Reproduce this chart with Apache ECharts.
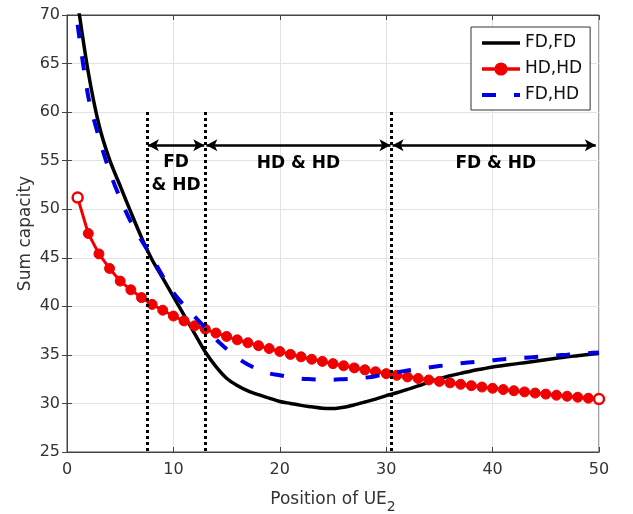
<!DOCTYPE html>
<html>
<head>
<meta charset="utf-8">
<script src="https://cdn.jsdelivr.net/npm/echarts@6/dist/echarts.min.js"></script>
<style>
  html, body { margin: 0; padding: 0; background: #fff; }
</style>
</head>
<body>
<div id="sumCapacity" style="width: 633px; height: 514px"></div>
<script>
// position of UE2
var positions = [1, 2, 3, 4, 5, 6, 7, 8, 9, 10, 11, 12, 13, 14, 15, 16, 17, 18, 19, 20,
  21, 22, 23, 24, 25, 26, 27, 28, 29, 30, 31, 32, 33, 34, 35, 36, 37, 38, 39, 40,
  41, 42, 43, 44, 45, 46, 47, 48, 49, 50];

var fdfd = [71.3, 64.1, 58.7, 55.1, 52.4, 49.7, 47.1, 44.8, 42.9, 41.0,
  39.1, 37.2, 35.3, 33.8, 32.6, 31.85, 31.3, 30.9, 30.55, 30.2,
  30.0, 29.8, 29.65, 29.5, 29.47, 29.6, 29.85, 30.15, 30.45, 30.8,
  31.1, 31.45, 31.8, 32.2, 32.55, 32.85, 33.1, 33.35, 33.55, 33.75,
  33.9, 34.05, 34.2, 34.35, 34.5, 34.65, 34.8, 34.92, 35.05, 35.15];

var hdhd = [51.2, 47.5, 45.4, 43.9, 42.6, 41.7, 40.9, 40.2, 39.6, 39.0,
  38.5, 38.0, 37.65, 37.25, 36.9, 36.55, 36.25, 35.95, 35.65, 35.35,
  35.05, 34.8, 34.55, 34.33, 34.1, 33.88, 33.66, 33.46, 33.26, 33.07,
  32.9, 32.73, 32.57, 32.42, 32.27, 32.12, 31.97, 31.83, 31.69, 31.56,
  31.43, 31.31, 31.19, 31.07, 30.96, 30.85, 30.74, 30.64, 30.54, 30.45];

var fdhd = [69.0, 61.6, 57.4, 53.9, 51.1, 48.7, 46.8, 45.0, 43.1, 41.4,
  40.1, 38.95, 37.8, 36.6, 35.6, 34.7, 34.0, 33.5, 33.1, 32.9,
  32.7, 32.55, 32.5, 32.45, 32.45, 32.5, 32.55, 32.65, 32.8, 33.05,
  33.2, 33.4, 33.55, 33.7, 33.85, 34.0, 34.15, 34.25, 34.35, 34.45,
  34.55, 34.62, 34.7, 34.78, 34.86, 34.95, 35.02, 35.1, 35.18, 35.25];

// region boundaries and labels
var bounds = [7.5, 13, 30.5];
var boundTop = 60;
var arrowY = 56.6;
var regionLabels = ["FD\n& HD", "HD & HD", "FD & HD"];
var labelX = [10.25, 21.75, 40.3];
var labelY = [53.65, 54.7, 54.7];

var font = "DejaVu Sans";
var txt = "#333";

function pairs(ys) {
  return positions.map(function (x, i) { return [x, ys[i]]; });
}

var chart = echarts.init(document.getElementById("sumCapacity"));

var lineData = [];
bounds.forEach(function (b) {
  lineData.push([
    { coord: [b, boundTop], symbol: "none", lineStyle: { type: "dotted", width: 3, color: "#000" } },
    { coord: [b, 25], symbol: "none" }
  ]);
});
var arrowEnds = [[bounds[0] + 0.1, bounds[1] - 0.1], [bounds[1] + 0.1, bounds[2] - 0.1], [bounds[2] + 0.1, 49.7]];
arrowEnds.forEach(function (a) {
  lineData.push([
    { coord: [a[0], arrowY], symbol: "arrow", symbolSize: [9, 11], lineStyle: { type: "solid", width: 2.5, color: "#000" } },
    { coord: [a[1], arrowY], symbol: "arrow", symbolSize: [9, 11] }
  ]);
});

// red markers: first and last drawn hollow, like the original
var hdData = pairs(hdhd).map(function (p, i, all) {
  if (i === 0 || i === all.length - 1) {
    return { value: p, itemStyle: { color: "#fff", borderColor: "#f00000", borderWidth: 2.5 } };
  }
  return p;
});

var noSymbol = { color: "rgba(0,0,0,0)", borderWidth: 0, opacity: 0 };

var option = {
  animation: false,
  textStyle: { fontFamily: font },
  grid: {
    left: 67, right: 34, top: 15, bottom: 62,
    outerBoundsMode: "none",
    containLabel: false,
    show: true, borderColor: "#444", borderWidth: 1
  },
  legend: {
    orient: "vertical",
    left: 471,
    top: 27,
    padding: [6, 8, 5, 9],
    itemGap: 6,
    itemWidth: 38,
    itemHeight: 14,
    backgroundColor: "#fff",
    borderColor: "#333",
    borderWidth: 1,
    borderRadius: 0,
    textStyle: { fontFamily: font, fontSize: 17, color: "#111", lineHeight: 20 },
    data: [
      { name: "FD,FD", itemStyle: noSymbol, lineStyle: { width: 3.5 } },
      { name: "HD,HD", lineStyle: { width: 3.5 } },
      { name: "FD,HD", itemStyle: noSymbol, lineStyle: { width: 4 } }
    ]
  },
  xAxis: [
    {
      type: "value", min: 0, max: 50, interval: 10, position: "bottom",
      name: "Position of UE{s|2}",
      nameLocation: "middle",
      nameGap: 34,
      nameTextStyle: {
        fontFamily: font, fontSize: 17, color: txt,
        rich: { s: { fontFamily: font, fontSize: 14, color: txt, padding: [14, 0, 0, 0] } }
      },
      axisLine: { show: true, lineStyle: { color: "#444" } },
      axisTick: { show: true, inside: true, length: 5, lineStyle: { color: "#444" } },
      axisLabel: { margin: 10, fontFamily: font, fontSize: 16, color: txt },
      splitLine: { show: true, lineStyle: { color: "#e3e3e3" } }
    },
    {
      type: "value", min: 0, max: 50, interval: 10, position: "top",
      axisLine: { show: true, lineStyle: { color: "#444" } },
      axisTick: { show: true, inside: true, length: 5, lineStyle: { color: "#444" } },
      axisLabel: { show: false },
      splitLine: { show: false }
    }
  ],
  yAxis: [
    {
      type: "value", min: 25, max: 70, interval: 5, position: "left",
      name: "Sum capacity",
      nameLocation: "middle",
      nameGap: 33,
      nameMoveOverlap: false,
      nameTextStyle: { fontFamily: font, fontSize: 17, color: txt },
      axisLine: { show: true, lineStyle: { color: "#444" } },
      axisTick: { show: true, inside: true, length: 5, lineStyle: { color: "#444" } },
      axisLabel: { margin: 7, fontFamily: font, fontSize: 16, color: txt },
      splitLine: { show: true, lineStyle: { color: "#e3e3e3" } }
    },
    {
      type: "value", min: 25, max: 70, interval: 5, position: "right",
      axisLine: { show: true, lineStyle: { color: "#444" } },
      axisTick: { show: true, inside: true, length: 5, lineStyle: { color: "#444" } },
      axisLabel: { show: false },
      splitLine: { show: false }
    }
  ],
  series: [
    {
      name: "FD,FD",
      type: "line",
      smooth: 0.3,
      symbol: "none",
      clip: true,
      lineStyle: { color: "#000", width: 3.5 },
      itemStyle: { color: "#000" },
      data: pairs(fdfd),
      z: 3
    },
    {
      name: "HD,HD",
      type: "line",
      symbol: "circle",
      symbolSize: 10,
      showAllSymbol: true,
      lineStyle: { color: "#f00000", width: 3 },
      itemStyle: { color: "#f00000", borderColor: "#f00000", borderWidth: 1 },
      data: hdData,
      z: 4
    },
    {
      name: "FD,HD",
      type: "line",
      smooth: 0.3,
      symbol: "none",
      lineStyle: { color: "#0000e6", width: 4, type: [14, 18] },
      itemStyle: { color: "#0000e6" },
      data: pairs(fdhd),
      z: 5
    },
    {
      name: "regions",
      type: "line",
      data: [],
      silent: true,
      markLine: {
        silent: true,
        animation: false,
        label: { show: false },
        emphasis: { disabled: true },
        data: lineData
      },
      markPoint: {
        silent: true,
        animation: false,
        symbol: "circle",
        symbolSize: 0,
        label: {
          show: true,
          position: "inside",
          fontFamily: font,
          fontSize: 17,
          fontWeight: "bold",
          color: "#000",
          lineHeight: 23
        },
        data: regionLabels.map(function (t, i) {
          return { coord: [labelX[i], labelY[i]], value: t, label: { formatter: t } };
        })
      },
      z: 2
    }
  ]
};

option && chart.setOption(option);
</script>
</body>
</html>
